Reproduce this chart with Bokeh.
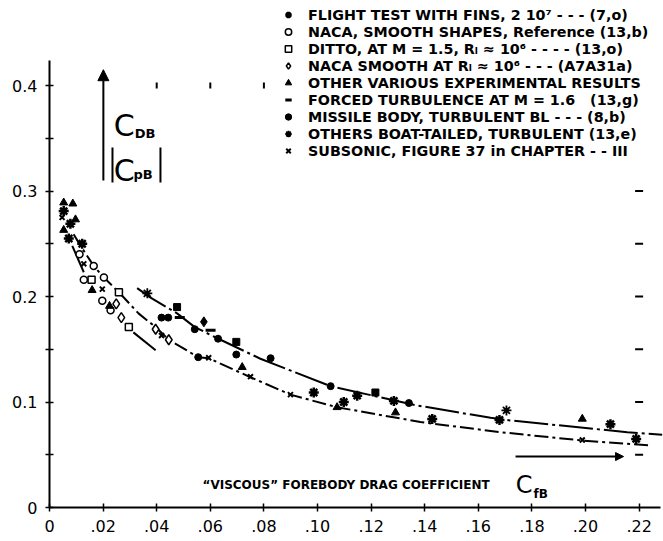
from bokeh.plotting import figure
from bokeh.models import Range1d, FixedTicker, Legend, LegendItem, Label, Arrow, NormalHead
from bokeh.embed import file_html
from bokeh.resources import INLINE

# ---------------- data ----------------
flight_x = [0.0053, 0.0078, 0.0072, 0.0122, 0.0986, 0.1098, 0.1148, 0.1285, 0.1428, 0.1679, 0.2093, 0.2189]
flight_y = [0.281, 0.269, 0.255, 0.250, 0.109, 0.100, 0.106, 0.101, 0.084, 0.083, 0.079, 0.065]

naca_x = [0.0112, 0.0165, 0.0203, 0.0128, 0.0197, 0.0228]
naca_y = [0.240, 0.229, 0.218, 0.216, 0.196, 0.187]

ditto_x = [0.0157, 0.0259, 0.0296]
ditto_y = [0.216, 0.204, 0.171]

nacaR_x = [0.0249, 0.0268, 0.0396, 0.0445]
nacaR_y = [0.193, 0.180, 0.169, 0.159]

other_x = [0.0053, 0.0087, 0.0097, 0.0053, 0.0159, 0.0224, 0.0719, 0.1073, 0.1291, 0.1988]
other_y = [0.289, 0.288, 0.273, 0.263, 0.206, 0.191, 0.133, 0.095, 0.090, 0.084]

forced_x = [0.0486, 0.0601]
forced_y = [0.180, 0.168]

missile_x = [0.0418, 0.0443, 0.0542, 0.0629, 0.0697, 0.0825, 0.1049, 0.1341, 0.0555]
missile_y = [0.180, 0.180, 0.169, 0.160, 0.145, 0.1415, 0.115, 0.099, 0.1425]

missile_sq_x = [0.0476, 0.0697, 0.1216]
missile_sq_y = [0.190, 0.157, 0.109]
missile_dm_x = [0.0576]
missile_dm_y = [0.176]

boat_x = [0.0365, 0.1705]
boat_y = [0.203, 0.092]

subsonic_x = [0.0047, 0.0128, 0.0197, 0.0418, 0.0594, 0.075, 0.0899, 0.1988]
subsonic_y = [0.275, 0.231, 0.207, 0.163, 0.142, 0.124, 0.107, 0.064]

curveA_x = [0.0327, 0.0377, 0.0476, 0.0542, 0.0638, 0.0787, 0.1049, 0.1366, 0.1646, 0.172, 0.2156, 0.2286]
curveA_y = [0.208, 0.199, 0.184, 0.171, 0.159, 0.141, 0.115, 0.097, 0.085, 0.0825, 0.0714, 0.069]

curveB_x = [0.009, 0.0116, 0.0165, 0.0203, 0.0259, 0.0332, 0.0396, 0.0445, 0.0555, 0.0594, 0.075, 0.0899,
            0.1073, 0.1384, 0.1683, 0.1988, 0.2243]
curveB_y = [0.259, 0.248, 0.229, 0.218, 0.204, 0.184, 0.171, 0.159, 0.1425, 0.1415, 0.1235, 0.107,
            0.095, 0.081, 0.0714, 0.0635, 0.0588]

curveC_xs = [[0.0085, 0.0128], [0.0313, 0.0396]]
curveC_ys = [[0.248, 0.223], [0.166, 0.149]]

grid_col_x = 0.22
grid_col_y = [0.05, 0.10, 0.15, 0.20, 0.25, 0.30]
grid_row_y = 0.40
grid_row_x = [0.04, 0.06, 0.08]

x_tick_values = [0, 0.02, 0.04, 0.06, 0.08, 0.10, 0.12, 0.14, 0.16, 0.18, 0.20, 0.22]
x_tick_labels = ["0", ".02", ".04", ".06", ".08", ".10", ".12", ".14", ".16", ".18", ".20", ".22"]
y_tick_values = [0, 0.05, 0.1, 0.15, 0.2, 0.25, 0.3, 0.35, 0.4]
y_tick_labels = ["0", "", "0.1", "", "0.2", "", "0.3", "", "0.4"]

legend_labels = [
    "FLIGHT TEST WITH FINS, 2 10\u2077 - - - (7,o)",
    "NACA, SMOOTH SHAPES, Reference (13,b)",
    "DITTO, AT M = 1.5, R\u2097 \u2248 10\u2076 - - - - (13,o)",
    "NACA SMOOTH AT R\u2097 \u2248 10\u2076 - - - (A7A31a)",
    "OTHER VARIOUS EXPERIMENTAL RESULTS",
    "FORCED TURBULENCE AT M = 1.6   (13,g)",
    "MISSILE BODY, TURBULENT BL - - - (8,b)",
    "OTHERS BOAT-TAILED, TURBULENT (13,e)",
    "SUBSONIC, FIGURE 37 in CHAPTER - - III",
]

# ---------------- figure ----------------
p = figure(width=663, height=541, output_backend="svg", toolbar_location=None,
           x_range=Range1d(0, 0.2291), y_range=Range1d(0, 0.4806),
           min_border_left=49, min_border_right=0, min_border_top=0, min_border_bottom=34)
p.outline_line_color = None
p.grid.visible = False

FONT = "DejaVu Sans"
for ax in (p.xaxis[0], p.yaxis[0]):
    ax.axis_line_width = 2
    ax.axis_line_color = "black"
    ax.major_tick_in = 4
    ax.major_tick_out = 4
    ax.major_tick_line_width = 1.5
    ax.minor_tick_line_color = None
    ax.major_label_text_font = FONT
    ax.major_label_text_font_size = "16px"
    ax.major_label_text_color = "black"

p.xaxis.ticker = FixedTicker(ticks=x_tick_values)
p.xaxis.major_label_overrides = dict(zip(x_tick_values, x_tick_labels))
p.xaxis.bounds = (0, 0.228)
p.xaxis.major_label_standoff = 8

p.yaxis.ticker = FixedTicker(ticks=y_tick_values)
p.yaxis.major_label_overrides = dict(zip(y_tick_values, y_tick_labels))
p.yaxis.bounds = (0, 0.424)
p.yaxis.major_label_standoff = 8

# curves
p.line(curveA_x, curveA_y, line_color="black", line_width=2, line_dash="34 4 3 4")
p.line(curveB_x, curveB_y, line_color="black", line_width=2, line_dash="14 4 3 4")
p.multi_line(curveC_xs, curveC_ys, line_color="black", line_width=2)

# grid marks
p.scatter([grid_col_x] * len(grid_col_y), grid_col_y, marker="dash", size=8, line_width=2, color="black")
p.scatter(grid_row_x, [grid_row_y] * len(grid_row_x), marker="dash", size=6, angle=1.5708, line_width=2, color="black")

# points
r_flight = p.scatter(flight_x, flight_y, marker="asterisk", size=10, line_width=2.5, color="black")
r_naca = p.scatter(naca_x, naca_y, marker="circle", size=7, line_width=1.5, line_color="black", fill_color="white")
r_ditto = p.scatter(ditto_x, ditto_y, marker="square", size=7, line_width=1.5, line_color="black", fill_color="white")
r_nacaR = p.scatter(nacaR_x, nacaR_y, marker="diamond", size=10, line_width=1.5, line_color="black", fill_color="white")
r_other = p.scatter(other_x, other_y, marker="triangle", size=8, line_width=1, color="black")
r_forced = p.scatter(forced_x, forced_y, marker="dash", size=10, line_width=3, color="black")
r_missile = p.scatter(missile_x, missile_y, marker="circle", size=7, color="black")
p.scatter(missile_sq_x, missile_sq_y, marker="square", size=7, color="black")
p.scatter(missile_dm_x, missile_dm_y, marker="diamond", size=10, color="black")
r_boat = p.scatter(boat_x, boat_y, marker="asterisk", size=10, line_width=1.8, color="black")
r_sub = p.scatter(subsonic_x, subsonic_y, marker="x", size=7, line_width=2, color="black")

renderers = [r_flight, r_naca, r_ditto, r_nacaR, r_other, r_forced, r_missile, r_boat, r_sub]
legend = Legend(items=[LegendItem(label=l, renderers=[r]) for l, r in zip(legend_labels, renderers)],
                location=(231, 348))
legend.border_line_color = None
legend.background_fill_alpha = 0
legend.label_text_font = FONT
legend.label_text_font_style = "bold"
legend.label_text_font_size = "14.3px"
legend.label_text_color = "black"
legend.glyph_width = 16
legend.glyph_height = 17
legend.label_height = 17
legend.spacing = 0
legend.padding = 0
legend.margin = 0
legend.label_standoff = 12
p.add_layout(legend)

# annotations
p.add_layout(Arrow(end=NormalHead(size=11, fill_color="black", line_color="black"),
                   x_start=0.0201, y_start=0.310, x_end=0.0201, y_end=0.415,
                   line_width=2, line_color="black"))
p.add_layout(Arrow(end=NormalHead(size=8, fill_color="black", line_color="black"),
                   x_start=0.1739, y_start=0.0483, x_end=0.2142, y_end=0.0483,
                   line_width=2, line_color="black"))

def lab(x, y, t, size, bold=False, font=FONT):
    p.add_layout(Label(x=x, y=y, text=t, text_font=font, text_font_size=size,
                       text_font_style="bold" if bold else "normal", text_color="black",
                       text_baseline="alphabetic", text_align="left"))

lab(0.0240, 0.3625, "C", "30px")
lab(0.0318, 0.3545, "DB", "13px", bold=True)
lab(0.0240, 0.3195, "C", "30px")
lab(0.0313, 0.3160, "pB", "13px", bold=True)
p.segment(x0=[0.0235, 0.0414], y0=[0.3412, 0.3412], x1=[0.0235, 0.0414], y1=[0.308, 0.308],
          line_width=2, line_color="black")

lab(0.0571, 0.0215, "\u201cVISCOUS\u201d FOREBODY DRAG COEFFICIENT", "12px", bold=True)
lab(0.1740, 0.0215, "C", "24px")
lab(0.1806, 0.0130, "fB", "12px", bold=True)

open("out.html", "w").write(file_html(p, INLINE))
